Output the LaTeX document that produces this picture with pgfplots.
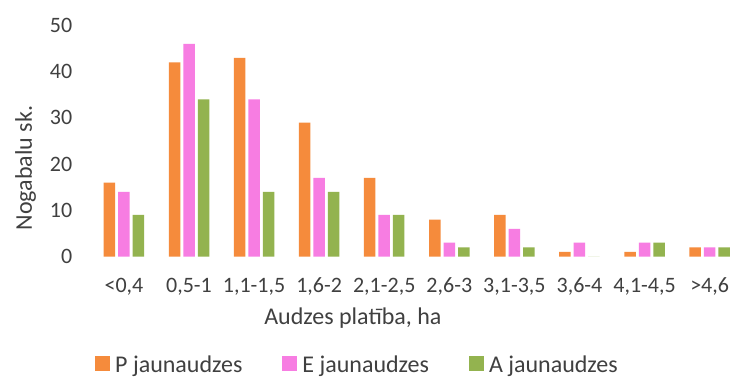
\documentclass[border=0pt]{standalone}
\usepackage{pgfplots}
\pgfplotsset{compat=1.18}
\usepackage{fontspec}
\setmainfont{Carlito}
\definecolor{cP}{HTML}{F58B3C}
\definecolor{cE}{HTML}{F77DE2}
\definecolor{cA}{HTML}{93B34F}
\definecolor{txt}{HTML}{404040}
\begin{document}
\begin{tikzpicture}
\useasboundingbox (0,0) rectangle (736pt,378pt);
\fill[white] (0,0) rectangle (736pt,378pt);
\begin{axis}[
  at={(91.4pt,121.5pt)}, anchor=south west,
  scale only axis, width=641pt, height=231pt,
  xmin=-0.5, xmax=9.35, ymin=0, ymax=50,
  enlargelimits=false,
  ybar, bar width=11.5pt,
  axis line style={draw=none}, major tick length=0pt,
  xtick={0,...,9},
  xticklabels={{<0,4},{0,5-1},{1,1-1,5},{1,6-2},{2,1-2,5},{2,6-3},{3,1-3,5},{3,6-4},{4,1-4,5},{>4,6}},
  ytick={0,10,...,50},
  /pgf/number format/assume math mode=true,
  ticklabel style={font=\fontsize{22}{26}\selectfont, text=txt, inner sep=0pt},
  xticklabel style={anchor=base, yshift=-35.5pt},
  yticklabel style={anchor=east, xshift=-19pt},
  xlabel={Audzes platība, ha},
  ylabel={Nogabalu sk.},
  label style={font=\fontsize{24}{28}\selectfont, text=txt, inner sep=0pt},
  xlabel style={at={(axis description cs:0.408,-0.2965)}, anchor=base},
  ylabel style={at={(axis description cs:-0.0927,0.383)}, anchor=base, rotate=0},
  legend columns=3,
  legend style={draw=none, fill=none, at={(axis description cs:0.0056,-0.47)}, anchor=west,
    font=\fontsize{24}{28}\selectfont, text=txt, inner sep=0pt,
    nodes={inner sep=0pt},
    /tikz/every odd column/.append style={column sep=5pt},
    /tikz/every even column/.append style={column sep=40pt}},
  legend image code/.code={\fill[#1] (0pt,-6pt) rectangle (15pt,9pt);},
]
\addplot[fill=cP, draw=none, bar shift=-14.5pt] coordinates {(0,16) (1,42) (2,43) (3,29) (4,17) (5,8) (6,9) (7,1) (8,1) (9,2)};
\addplot[fill=cE, draw=none, bar shift=0pt] coordinates {(0,14) (1,46) (2,34) (3,17) (4,9) (5,3) (6,6) (7,3) (8,3) (9,2)};
\addplot[fill=cA, draw=none, bar shift=14.5pt] coordinates {(0,9) (1,34) (2,14) (3,14) (4,9) (5,2) (6,2) (7,0) (8,3) (9,2)};
\legend{P jaunaudzes, E jaunaudzes, A jaunaudzes}
\end{axis}
\end{tikzpicture}
\end{document}
